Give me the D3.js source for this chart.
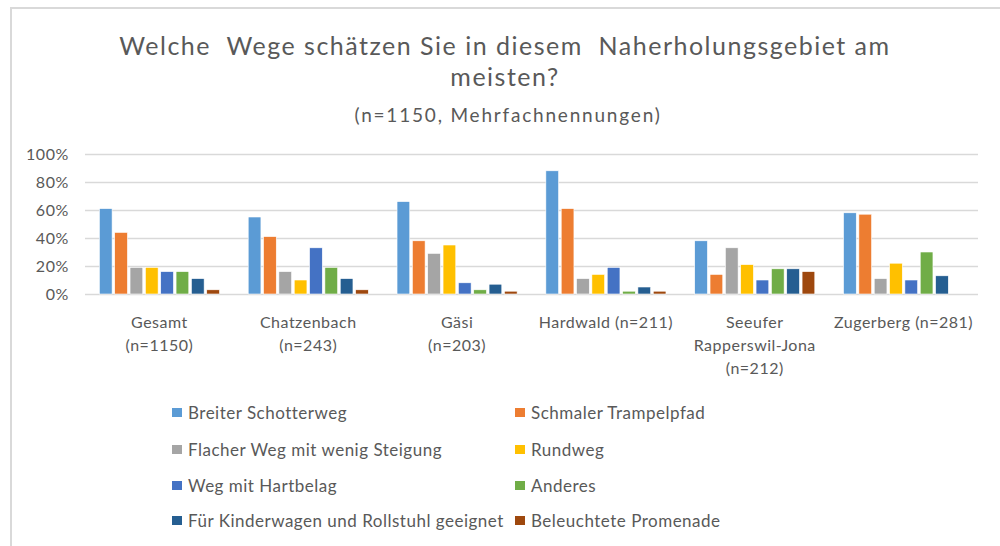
<!DOCTYPE html>
<html>
<head>
<meta charset="utf-8">
<script src="https://cdn.jsdelivr.net/npm/d3@7"></script>
<style>
  html, body { margin: 0; padding: 0; background: #fff; }
  svg { display: block; font-family: Lato, "Open Sans", sans-serif; }
  text { white-space: pre; }
</style>
</head>
<body>
<div id="chart"></div>
<script>
// Data (share of respondents, %)
const categories = [
  ["Gesamt", "(n=1150)"],
  ["Chatzenbach", "(n=243)"],
  ["Gäsi", "(n=203)"],
  ["Hardwald (n=211)"],
  ["Seeufer", "Rapperswil-Jona", "(n=212)"],
  ["Zugerberg (n=281)"]
];
const seriesNames = [
  "Breiter Schotterweg",
  "Schmaler Trampelpfad",
  "Flacher Weg mit wenig Steigung",
  "Rundweg",
  "Weg mit Hartbelag",
  "Anderes",
  "Für Kinderwagen und Rollstuhl geeignet",
  "Beleuchtete Promenade"
];
const breiter    = [61, 55, 66, 88, 38, 58];
const schmaler   = [44, 41, 38, 61, 14, 57];
const flacher    = [19, 16, 29, 11, 33, 11];
const rundweg    = [19, 10, 35, 14, 21, 22];
const hartbelag  = [16, 33,  8, 19, 10, 10];
const anderes    = [16, 19,  3,  2, 18, 30];
const kinderwag  = [11, 11,  7,  5, 18, 13];
const promenade  = [ 3,  3,  2,  2, 16,  0];
const seriesValues = [breiter, schmaler, flacher, rundweg, hartbelag, anderes, kinderwag, promenade];
const yTicks = [0, 20, 40, 60, 80, 100];

const colors = ["#5B9BD5", "#ED7D31", "#A5A5A5", "#FFC000", "#4472C4", "#70AD47", "#255E91", "#9E480E"];
const textColor = "#595959";

const width = 1000, height = 546;
const margin = { top: 154, right: 22, bottom: 252, left: 85 };

const svg = d3.select("#chart").append("svg")
  .attr("width", width)
  .attr("height", height);

// Chart frame (only top and left edges are visible)
svg.append("rect")
  .attr("x", 11).attr("y", 8)
  .attr("width", width + 10).attr("height", height + 10)
  .attr("fill", "none")
  .attr("stroke", "#d9d9d9")
  .attr("stroke-width", 2);

// Title
svg.append("text")
  .attr("x", 505).attr("y", 55)
  .attr("text-anchor", "middle")
  .attr("font-size", 25)
  .attr("letter-spacing", 1.5)
  .attr("fill", textColor)
  .text("Welche  Wege schätzen Sie in diesem  Naherholungsgebiet am");
svg.append("text")
  .attr("x", 505).attr("y", 86)
  .attr("text-anchor", "middle")
  .attr("font-size", 25)
  .attr("letter-spacing", 1.5)
  .attr("fill", textColor)
  .text("meisten?");
svg.append("text")
  .attr("x", 508).attr("y", 122)
  .attr("text-anchor", "middle")
  .attr("font-size", 19)
  .attr("letter-spacing", 1.8)
  .attr("fill", textColor)
  .text("(n=1150, Mehrfachnennungen)");

// Scales
const x0 = d3.scaleBand()
  .domain(d3.range(categories.length))
  .range([margin.left, width - margin.right])
  .paddingInner(0.193)
  .paddingOuter(0.0965);

const x1 = d3.scaleBand()
  .domain(d3.range(seriesNames.length))
  .range([0, x0.bandwidth()])
  .paddingInner(0.17);

const y = d3.scaleLinear()
  .domain([0, 100])
  .range([height - margin.bottom, margin.top]);

// Gridlines + y labels
const yAxis = d3.axisLeft(y)
  .tickValues(yTicks)
  .tickSize(-(width - margin.left - margin.right))
  .tickPadding(16)
  .tickFormat(d => d + "%");

svg.append("g")
  .attr("transform", `translate(${margin.left},0)`)
  .call(yAxis)
  .call(g => g.select(".domain").remove())
  .call(g => g.selectAll(".tick line").attr("stroke", "#d9d9d9").attr("stroke-width", 1.5))
  .call(g => g.selectAll(".tick text")
    .attr("fill", textColor)
    .attr("font-size", 16)
    .attr("letter-spacing", 0.6)
    .attr("font-family", "Lato, sans-serif"));

// Bars
const groups = svg.append("g")
  .selectAll("g")
  .data(categories.map((c, i) => i))
  .join("g")
    .attr("transform", i => `translate(${x0(i)},0)`);

groups.selectAll("rect")
  .data(i => seriesValues.map((vals, s) => ({ s, v: vals[i] })))
  .join("rect")
    .attr("x", d => x1(d.s))
    .attr("y", d => y(d.v))
    .attr("width", x1.bandwidth())
    .attr("height", d => y(0) - y(d.v))
    .attr("fill", d => colors[d.s])
    .attr("stroke", "#fff")
    .attr("stroke-width", d => d.v > 0 ? 0.6 : 0);

// Category labels
const catG = svg.append("g");
categories.forEach((lines, i) => {
  const t = catG.append("text")
    .attr("text-anchor", "middle")
    .attr("font-size", 16)
    .attr("letter-spacing", 0.5)
    .attr("fill", textColor);
  lines.forEach((ln, k) => {
    t.append("tspan")
      .attr("x", x0(i) + x0.bandwidth() / 2)
      .attr("y", 328 + k * 23)
      .text(ln);
  });
});

// Legend, two columns
const legendCols = [172, 515];
const legendRows = [419, 456, 492, 527];
const legend = svg.append("g");
seriesNames.forEach((name, s) => {
  const lx = legendCols[s % 2];
  const ly = legendRows[Math.floor(s / 2)];
  legend.append("rect")
    .attr("x", lx).attr("y", ly - 11)
    .attr("width", 10).attr("height", 9)
    .attr("fill", colors[s]);
  legend.append("text")
    .attr("x", lx + 16).attr("y", ly)
    .attr("font-size", 17)
    .attr("letter-spacing", 0.5)
    .attr("fill", textColor)
    .text(name);
});
</script>
</body>
</html>
